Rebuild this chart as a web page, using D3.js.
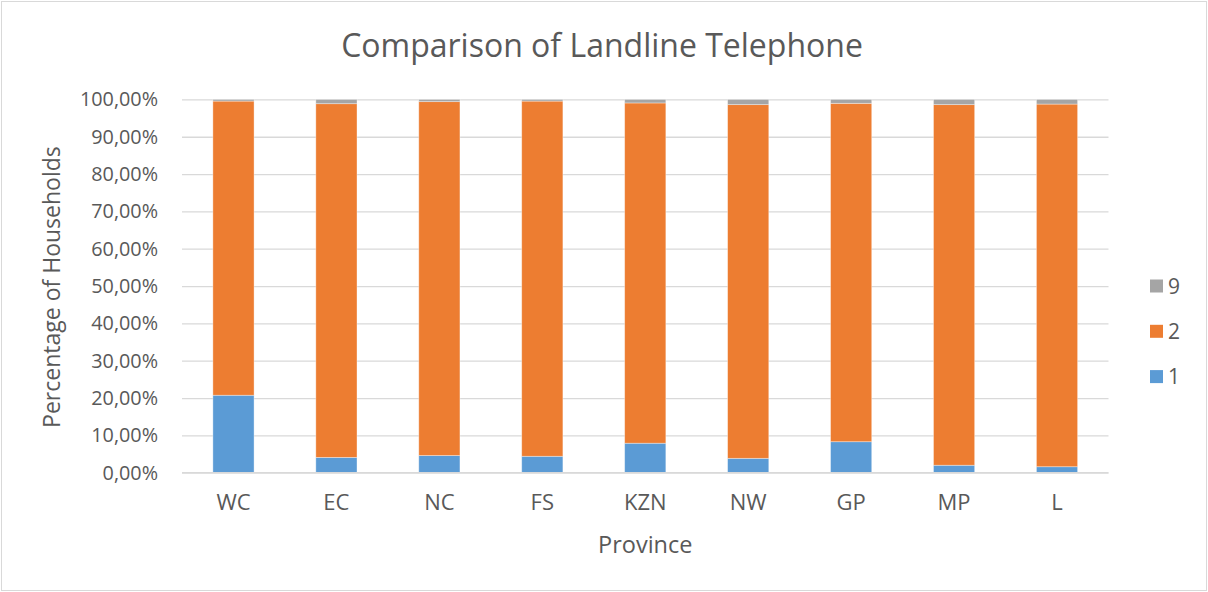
<!DOCTYPE html>
<html>
<head>
<meta charset="utf-8">
<script src="https://cdn.jsdelivr.net/npm/d3@7"></script>
<style>
  html, body { margin: 0; padding: 0; background: #fff; }
  svg { display: block; }
  text { font-family: "Open Sans", "Noto Sans", sans-serif; fill: #595959; }
</style>
</head>
<body>
<svg id="chart" width="1208" height="592"></svg>
<script>
// Province categories and stacked series values (percent of households)
const provinces = ["WC", "EC", "NC", "FS", "KZN", "NW", "GP", "MP", "L"];
const series1 = [20.75, 4.1, 4.6, 4.4, 7.9, 3.85, 8.3, 2.0, 1.6];
const series2 = [78.8, 94.75, 94.8, 95.15, 91.15, 94.75, 90.65, 96.6, 97.15];
const series9 = [0.45, 1.15, 0.6, 0.45, 0.95, 1.4, 1.05, 1.4, 1.25];
const yTicks = [0, 0.1, 0.2, 0.3, 0.4, 0.5, 0.6, 0.7, 0.8, 0.9, 1.0];
const seriesKeys = ["1", "2", "9"];
const seriesColors = ["#5B9BD5", "#ED7D31", "#A5A5A5"];

const W = 1208, H = 592;
const plot = { left: 182, top: 99.4, width: 926.5, height: 373.3 };

const svg = d3.select("#chart");

// outer chart border
svg.append("rect")
  .attr("x", 1.5).attr("y", 1.5)
  .attr("width", W - 3).attr("height", H - 3)
  .attr("fill", "#fff").attr("stroke", "#d9d9d9").attr("stroke-width", 1);

const x = d3.scaleBand()
  .domain(provinces)
  .range([plot.left, plot.left + plot.width])
  .paddingInner(0.6).paddingOuter(0.3);

const y = d3.scaleLinear()
  .domain([0, 1])
  .range([plot.top + plot.height, plot.top]);

const fmt = v => d3.format(".2f")(v * 100).replace(".", ",") + "%";

// gridlines and y tick labels
const yAxis = d3.axisLeft(y)
  .tickValues(yTicks)
  .tickSize(-plot.width)
  .tickPadding(24)
  .tickFormat(fmt);

const gy = svg.append("g")
  .attr("transform", `translate(${plot.left},0)`)
  .call(yAxis);
gy.select(".domain").remove();
gy.selectAll(".tick line").attr("stroke", "#d9d9d9").attr("stroke-width", 1.3);
gy.selectAll(".tick text")
  .attr("fill", "#595959")
  .style("font-size", "19.8px")
  .style("font-family", "'Open Sans', sans-serif");

// stacked bars
const rows = provinces.map((p, i) => ({ province: p, "1": series1[i] / 100, "2": series2[i] / 100, "9": series9[i] / 100 }));
const stack = d3.stack().keys(seriesKeys)(rows);

svg.append("g").selectAll("g")
  .data(stack)
  .join("g")
  .attr("fill", (d, i) => seriesColors[i])
  .selectAll("rect")
  .data(d => d)
  .join("rect")
  .attr("x", d => x(d.data.province))
  .attr("width", x.bandwidth())
  .attr("y", d => y(d[1]))
  .attr("height", d => y(d[0]) - y(d[1]))
  .attr("stroke", "#ffffff")
  .attr("stroke-opacity", 0.45)
  .attr("stroke-width", 0.8);

// x axis baseline and category labels
const xAxis = d3.axisBottom(x).tickSize(0).tickPadding(22);
const gx = svg.append("g")
  .attr("transform", `translate(0,${plot.top + plot.height})`)
  .call(xAxis);
gx.select(".domain").attr("stroke", "#d9d9d9").attr("stroke-width", 1.3)
  .attr("d", `M${plot.left},0H${plot.left + plot.width}`);
gx.selectAll(".tick text")
  .attr("fill", "#595959")
  .style("font-size", "22px")
  .style("font-family", "'Open Sans', sans-serif");

// title
svg.append("text")
  .attr("x", 602).attr("y", 57)
  .attr("text-anchor", "middle")
  .style("font-size", "32px")
  .text("Comparison of Landline Telephone");

// axis titles
svg.append("text")
  .attr("x", plot.left + plot.width / 2).attr("y", 553)
  .attr("text-anchor", "middle")
  .style("font-size", "23.5px")
  .text("Province");

svg.append("text")
  .attr("transform", `translate(60,${plot.top + plot.height / 2 + 1}) rotate(-90)`)
  .attr("text-anchor", "middle")
  .style("font-size", "23px")
  .text("Percentage of Households");

// legend (top-down: 9, 2, 1)
const legendItems = seriesKeys.map((k, i) => ({ key: k, color: seriesColors[i] })).reverse();
const lg = svg.append("g").selectAll("g")
  .data(legendItems)
  .join("g")
  .attr("transform", (d, i) => `translate(1150,${286 + i * 45.3})`);
lg.append("rect")
  .attr("x", 0).attr("y", -6.5)
  .attr("width", 13).attr("height", 13)
  .attr("fill", d => d.color);
lg.append("text")
  .attr("x", 18).attr("y", 7.5)
  .style("font-size", "21px")
  .text(d => d.key);
</script>
</body>
</html>
